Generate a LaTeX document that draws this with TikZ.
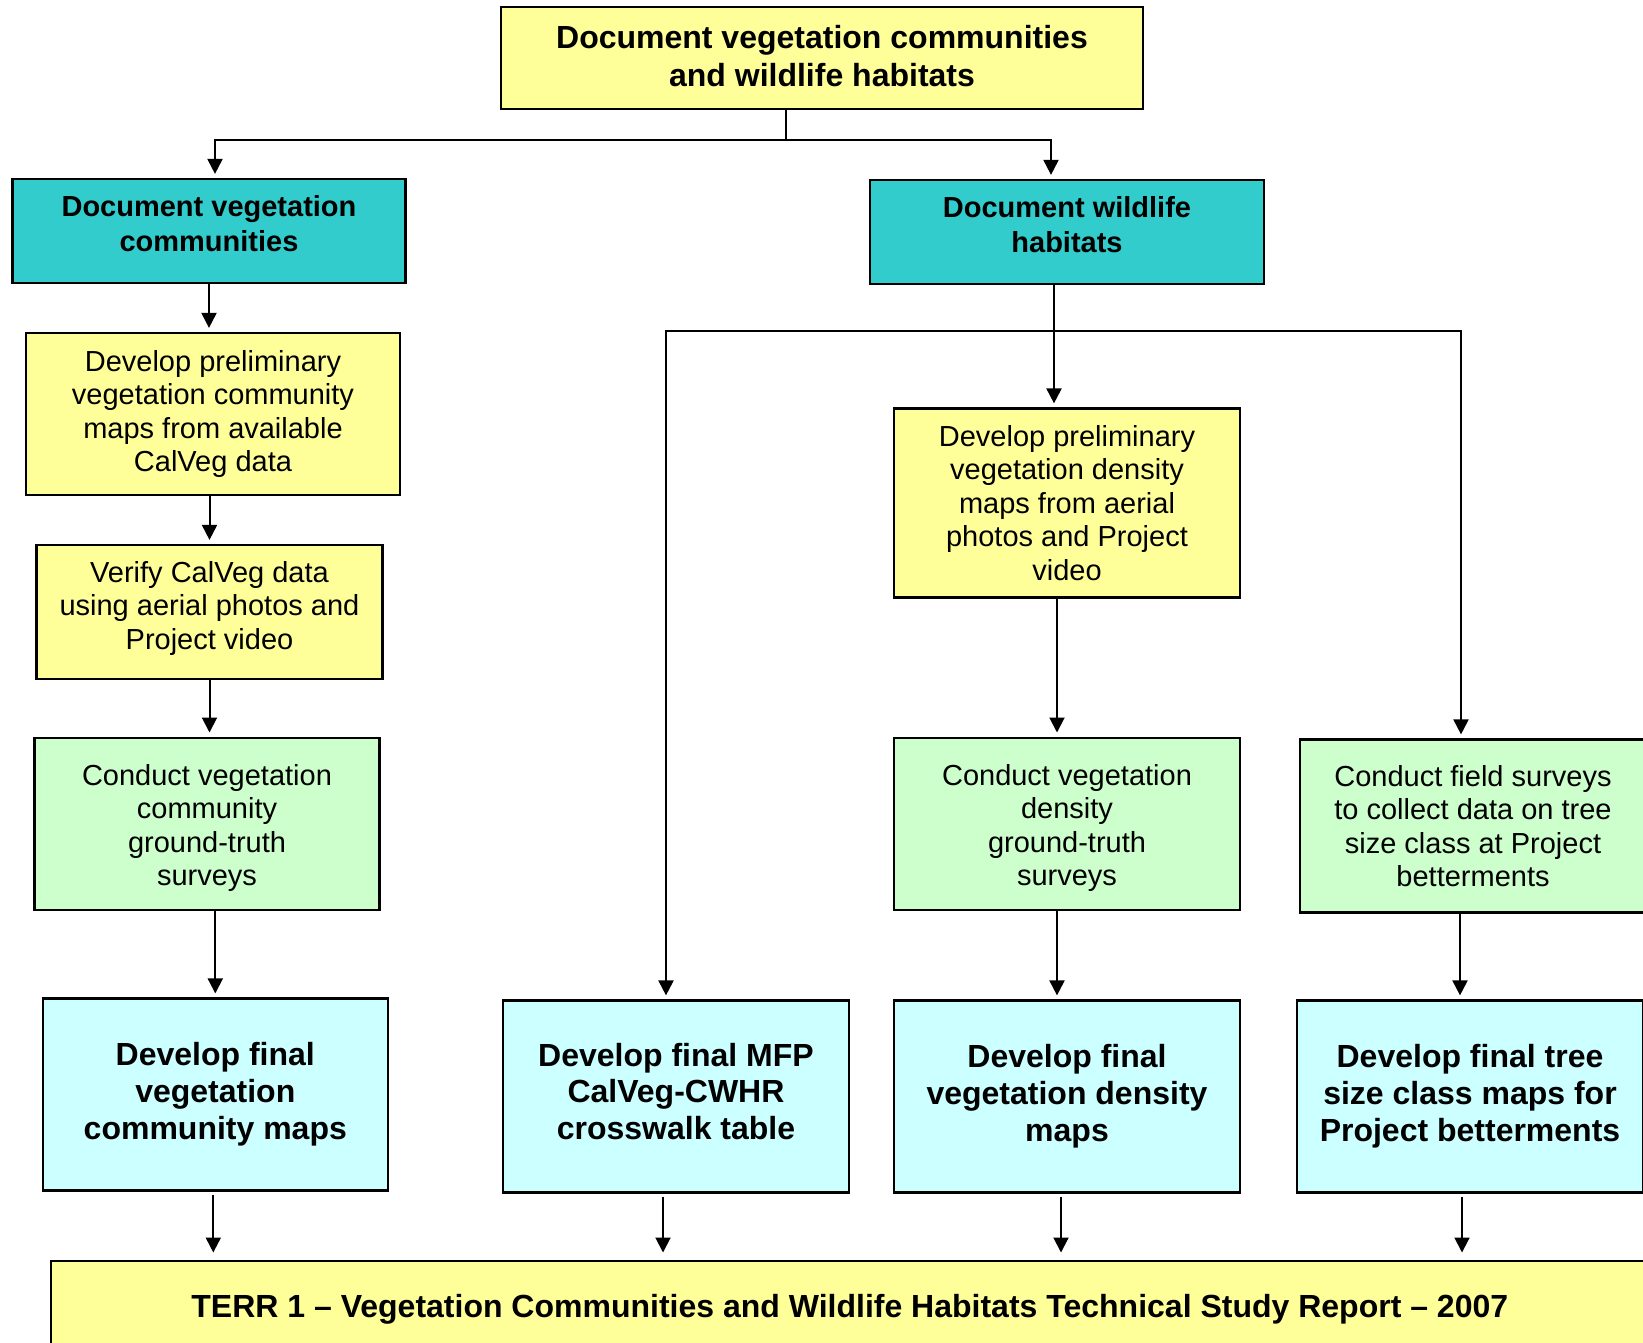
\documentclass[tikz,border=0pt]{standalone}
\usepackage{fontspec}
\setmainfont{Liberation Sans}
\usetikzlibrary{arrows.meta}
\usetikzlibrary{calc}

\definecolor{boxyellow}{HTML}{FFFF99}
\definecolor{boxteal}{HTML}{33CCCC}
\definecolor{boxgreen}{HTML}{CCFFCC}
\definecolor{boxcyan}{HTML}{CCFFFF}

\begin{document}
\begin{tikzpicture}[x=0.5pt, y=-0.5pt,
    box/.style={draw, line width=1.1pt, align=center, inner sep=0pt},
    task/.style={box, font=\fontsize{14.5}{16.75}\selectfont},
    head/.style={box, fill=boxteal, font=\fontsize{14.5}{17.3}\selectfont\bfseries},
    final/.style={box, fill=boxcyan, font=\fontsize{16}{18.4}\selectfont\bfseries},
    lift/.style={execute at end node={\rule[-#1]{0pt}{0pt}}},
    drop/.style={execute at begin node={\rule{0pt}{#1}}},
    arr/.style={line width=1pt, shorten >=2pt, -{Triangle[width=7.5pt,length=7.5pt]}}]

    \useasboundingbox (0,0) rectangle (1643,1343);

    \node[box, fill=boxyellow, minimum width=321pt, minimum height=51pt, lift=2pt,
          font=\fontsize{16}{18.8}\selectfont\bfseries] at (822,58) (Top)
          {Document vegetation communities\\and wildlife habitats};
    \node[head, minimum width=196.5pt, minimum height=52pt, lift=7.3pt] at (209,231) (Veg) {Document vegetation\\communities};
    \node[head, minimum width=197pt, minimum height=52pt, lift=7.3pt] at (1067,232) (Hab) {Document wildlife\\habitats};

    % left column
    \node[task, fill=boxyellow, minimum width=187pt, minimum height=81pt] at (213,414) (VegPre)
          {Develop preliminary\\vegetation community\\maps from available\\CalVeg data};
    \node[task, fill=boxyellow, minimum width=173pt, minimum height=67pt, lift=6.6pt] at (209.5,612) (VegVer)
          {Verify CalVeg data\\using aerial photos and\\Project video};
    \node[task, fill=boxgreen, minimum width=172.5pt, minimum height=86pt, drop=65pt] at (207,823.6) (VegGT)
          {Conduct vegetation\\community\\ground-truth\\surveys};
    \node[final, minimum width=172.5pt, minimum height=96pt] at (215.3,1094.5) (VegFin)
          {Develop final\\vegetation\\community maps};

    % right columns
    \node[task, fill=boxyellow, minimum width=173pt, minimum height=94.5pt] at (1067,503) (HabPre)
          {Develop preliminary\\vegetation density\\maps from aerial\\photos and Project\\video};
    \node[task, fill=boxgreen, minimum width=173pt, minimum height=86pt, drop=65pt] at (1067,823.6) (HabGT)
          {Conduct vegetation\\density\\ground-truth\\surveys};
    \node[task, fill=boxgreen, minimum width=173pt, minimum height=86.5pt] at (1473,826) (TreeGT)
          {Conduct field surveys\\to collect data on tree\\size class at Project\\betterments};
    \node[final, minimum width=173pt, minimum height=96pt, lift=5.2pt] at (676,1096.5) (MFP)
          {Develop final MFP\\CalVeg-CWHR\\crosswalk table};
    \node[final, minimum width=173pt, minimum height=96pt] at (1067,1096.5) (HabFin)
          {Develop final\\vegetation density\\maps};
    \node[final, minimum width=173pt, minimum height=96pt] at (1470,1096.5) (TreeFin)
          {Develop final tree\\size class maps for\\Project betterments};

    \node[box, fill=boxyellow, minimum width=798.5pt, minimum height=46pt, drop=14pt,
          font=\fontsize{16}{18.4}\selectfont\bfseries] at (849.8,1306.6) (Report)
          {TERR 1 -- Vegetation Communities and Wildlife Habitats Technical Study Report -- 2007};

    \draw[arr] ($(Top.south)+(-36,0)$) -- ++(0,30) -| ($(Veg.north)+(6,0)$);
    \draw[arr] ($(Top.south)+(-36,0)$) -- ++(0,30) -| ($(Hab.north)+(-16,0)$);

    \draw[arr] (Veg.south) -- (Veg.south |- VegPre.north);
    \draw[arr] (VegPre.south -| VegVer.north) -- (VegVer.north);
    \draw[arr] (VegVer.south) -- (VegVer.south |- VegGT.north);
    \draw[arr] (VegGT.south -| VegFin.north) -- (VegFin.north);

    \coordinate (HabJ) at ($(Hab.south)+(-13,46)$);
    \draw[arr] ($(Hab.south)+(-13,0)$) -- ($(HabPre.north)+(-13,0)$);
    \draw[arr] (HabJ) -| ($(MFP.north)+(-10,0)$);
    \draw[arr] (HabJ) -| ($(TreeGT.north)+(-12,0)$);
    \draw[arr] ($(HabPre.south)+(-10,0)$) -- ($(HabGT.north)+(-10,0)$);
    \draw[arr] ($(HabGT.south)+(-10,0)$) -- ($(HabFin.north)+(-10,0)$);
    \draw[arr] ($(TreeGT.south -| TreeFin.north)+(-10,0)$) -- ($(TreeFin.north)+(-10,0)$);

    \foreach \n/\d in {VegFin/-2, MFP/-13, HabFin/-6, TreeFin/-8}
        \draw[arr, shorten <=1.5pt, shorten >=3.5pt] ($(\n.south)+(\d,0)$) -- ($(\n.south |- Report.north)+(\d,0)$);

\end{tikzpicture}
\end{document}
